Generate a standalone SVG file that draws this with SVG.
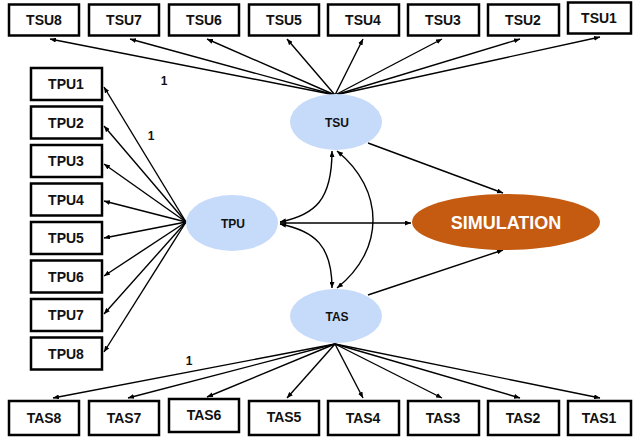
<svg xmlns="http://www.w3.org/2000/svg" width="633" height="438" viewBox="0 0 633 438">
<style>
.box{fill:#fff;stroke:#000;stroke-width:2.5}
.bt{font-family:"Liberation Sans",Arial,sans-serif;font-weight:bold;font-size:14px;fill:#111;text-anchor:middle}
.lat{fill:#C6DAFA}
.lt{font-family:"Liberation Sans",Arial,sans-serif;font-weight:bold;font-size:12px;fill:#111;text-anchor:middle}
.one{font-family:"Liberation Sans",Arial,sans-serif;font-weight:bold;font-size:12px;fill:#111;text-anchor:middle}
.ce{fill:none;stroke:#000;stroke-width:1.4;marker-end:url(#ah)}
.cb{fill:none;stroke:#000;stroke-width:1.4;marker-start:url(#ahs);marker-end:url(#ah)}
</style>
<defs>
<marker id="ah" markerUnits="userSpaceOnUse" markerWidth="7" markerHeight="5" refX="6" refY="2.5" orient="auto"><path d="M0,0 L6,2.5 L0,5 z" fill="#000"/></marker>
<marker id="ahs" markerUnits="userSpaceOnUse" markerWidth="7" markerHeight="5" refX="0" refY="2.5" orient="auto"><path d="M6,0 L0,2.5 L6,5 z" fill="#000"/></marker>
</defs>
<rect width="633" height="438" fill="#fff"/>
<g id="connectors">
<line class="ce" x1="335" y1="95" x2="50" y2="39"/>
<line class="ce" x1="335" y1="95" x2="130" y2="39"/>
<line class="ce" x1="335" y1="95" x2="207" y2="39"/>
<line class="ce" x1="335" y1="95" x2="287" y2="39"/>
<line class="ce" x1="335" y1="95" x2="363" y2="39"/>
<line class="ce" x1="335" y1="95" x2="442" y2="39"/>
<line class="ce" x1="335" y1="95" x2="520" y2="39"/>
<line class="ce" x1="335" y1="95" x2="600" y2="37"/>
<line class="ce" x1="186" y1="222" x2="104" y2="87"/>
<line class="ce" x1="186" y1="222" x2="104" y2="126"/>
<line class="ce" x1="186" y1="222" x2="104" y2="164"/>
<line class="ce" x1="186" y1="222" x2="104" y2="201"/>
<line class="ce" x1="186" y1="222" x2="104" y2="238"/>
<line class="ce" x1="186" y1="222" x2="104" y2="276"/>
<line class="ce" x1="186" y1="222" x2="104" y2="314"/>
<line class="ce" x1="186" y1="222" x2="104" y2="352"/>
<line class="ce" x1="335" y1="344" x2="53" y2="398"/>
<line class="ce" x1="335" y1="344" x2="128" y2="398"/>
<line class="ce" x1="335" y1="344" x2="207" y2="397"/>
<line class="ce" x1="335" y1="344" x2="287" y2="398"/>
<line class="ce" x1="335" y1="344" x2="363" y2="398"/>
<line class="ce" x1="335" y1="344" x2="442" y2="398"/>
<line class="ce" x1="335" y1="344" x2="520" y2="398"/>
<line class="ce" x1="335" y1="344" x2="600" y2="398"/>
<line class="ce" x1="368" y1="143" x2="503" y2="193"/>
<line class="ce" x1="368" y1="295" x2="503" y2="250"/>
<line class="ce" x1="280" y1="223" x2="411" y2="223"/>
<path class="cb" d="M280,222 C315,215 332,200 332,151"/>
<path class="cb" d="M280,224 C315,231 332,246 332,288"/>
<path class="cb" d="M337,151 C385,190 385,250 337,288"/>
</g>
<g id="TSU8"><rect class="box" x="9" y="4.5" width="70" height="31"/><text class="bt" x="44" y="25">TSU8</text></g>
<g id="TSU7"><rect class="box" x="89" y="4.5" width="70" height="31"/><text class="bt" x="124" y="25">TSU7</text></g>
<g id="TSU6"><rect class="box" x="169" y="4.5" width="70" height="31"/><text class="bt" x="204" y="25">TSU6</text></g>
<g id="TSU5"><rect class="box" x="249" y="4.5" width="70" height="31"/><text class="bt" x="284" y="25">TSU5</text></g>
<g id="TSU4"><rect class="box" x="328" y="4.5" width="71" height="31"/><text class="bt" x="363" y="25">TSU4</text></g>
<g id="TSU3"><rect class="box" x="408" y="4.5" width="71" height="31"/><text class="bt" x="443" y="25">TSU3</text></g>
<g id="TSU2"><rect class="box" x="488" y="4.5" width="71" height="31"/><text class="bt" x="523" y="25">TSU2</text></g>
<g id="TSU1"><rect class="box" x="568" y="2.5" width="63" height="31"/><text class="bt" x="599" y="23">TSU1</text></g>
<g id="TPU1"><rect class="box" x="31" y="68" width="71" height="32"/><text class="bt" x="66" y="89">TPU1</text></g>
<g id="TPU2"><rect class="box" x="31" y="106.5" width="71" height="32"/><text class="bt" x="66" y="127.5">TPU2</text></g>
<g id="TPU3"><rect class="box" x="31" y="145" width="71" height="32"/><text class="bt" x="66" y="166">TPU3</text></g>
<g id="TPU4"><rect class="box" x="31" y="183.5" width="71" height="32"/><text class="bt" x="66" y="204.5">TPU4</text></g>
<g id="TPU5"><rect class="box" x="31" y="222" width="71" height="32"/><text class="bt" x="66" y="243">TPU5</text></g>
<g id="TPU6"><rect class="box" x="31" y="260.5" width="71" height="32"/><text class="bt" x="66" y="281.5">TPU6</text></g>
<g id="TPU7"><rect class="box" x="31" y="299" width="71" height="32"/><text class="bt" x="66" y="320">TPU7</text></g>
<g id="TPU8"><rect class="box" x="31" y="337.5" width="71" height="32"/><text class="bt" x="66" y="358.5">TPU8</text></g>
<g id="TAS8"><rect class="box" x="9" y="401" width="70" height="34"/><text class="bt" x="44" y="423">TAS8</text></g>
<g id="TAS7"><rect class="box" x="89" y="401" width="70" height="34"/><text class="bt" x="124" y="423">TAS7</text></g>
<g id="TAS6"><rect class="box" x="169" y="399" width="70" height="33"/><text class="bt" x="204" y="420">TAS6</text></g>
<g id="TAS5"><rect class="box" x="249" y="401" width="70" height="34"/><text class="bt" x="284" y="422">TAS5</text></g>
<g id="TAS4"><rect class="box" x="328" y="401" width="71" height="34"/><text class="bt" x="363" y="423">TAS4</text></g>
<g id="TAS3"><rect class="box" x="408" y="401" width="71" height="34"/><text class="bt" x="443" y="423">TAS3</text></g>
<g id="TAS2"><rect class="box" x="488" y="401" width="71" height="34"/><text class="bt" x="523" y="423">TAS2</text></g>
<g id="TAS1"><rect class="box" x="568" y="401" width="63" height="34"/><text class="bt" x="599" y="423">TAS1</text></g>
<g id="TSU"><ellipse class="lat" cx="336" cy="122" rx="46" ry="28"/><text class="lt" x="337" y="127">TSU</text></g>
<g id="TPU"><ellipse class="lat" cx="232" cy="223" rx="46" ry="28"/><text class="lt" x="233" y="228">TPU</text></g>
<g id="TAS"><ellipse class="lat" cx="336" cy="316" rx="46" ry="27"/><text class="lt" x="337" y="321">TAS</text></g>
<g id="SIMULATION"><ellipse cx="506" cy="222" rx="94" ry="28" fill="#C55A11"/><text x="506" y="229" font-family="Liberation Sans,Arial,sans-serif" font-weight="bold" font-size="18" fill="#fff" text-anchor="middle">SIMULATION</text></g>
<g id="labels">
<text class="one" x="164" y="85">1</text>
<text class="one" x="151" y="140">1</text>
<text class="one" x="189" y="365">1</text>
</g>
</svg>
